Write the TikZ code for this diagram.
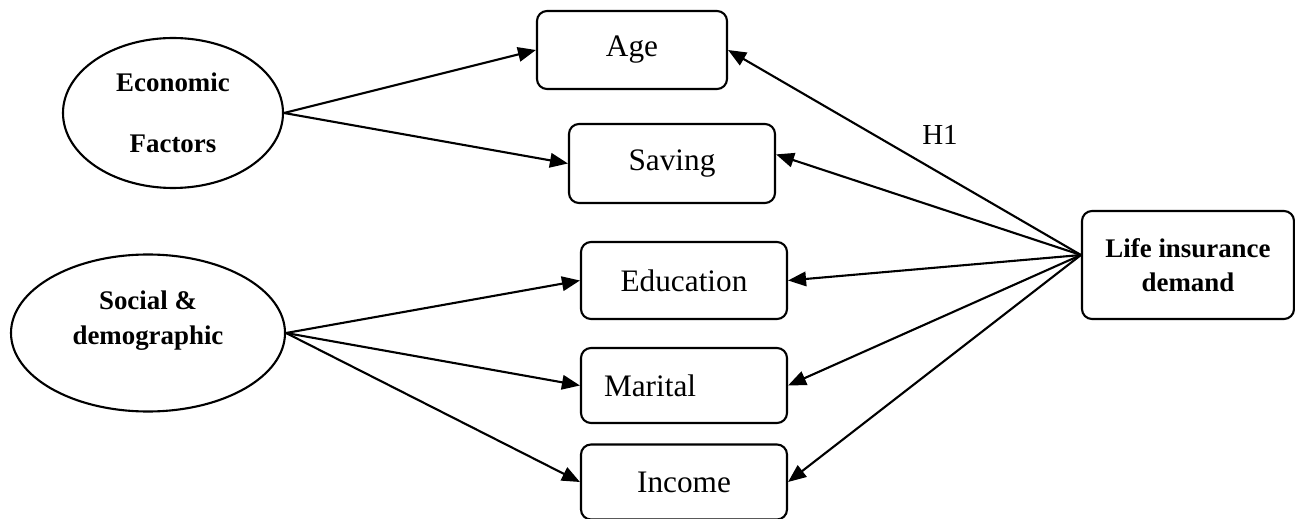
\documentclass[tikz,border=0pt]{standalone}
\usepackage{fontspec}
\setmainfont{Liberation Serif}
\usetikzlibrary{shapes.geometric,arrows.meta}

\tikzset{
  factor/.style={shape=ellipse,draw=black,line width=1.2pt,align=center,font=\bfseries\fontsize{15.3}{20}\selectfont},
  item/.style={shape=rectangle,rounded corners=0.2cm,draw=black,line width=1.2pt,minimum width=4.12cm,minimum height=1.54cm,font=\fontsize{17.8}{21}\selectfont},
}

\begin{document}
\begin{tikzpicture}[>={Triangle[length=0.36cm,width=0.29cm]},line width=1.2pt]
    \useasboundingbox (0,0) rectangle (25.9,10.36);

    \node[factor,minimum width=4.4cm,minimum height=3cm,font=\bfseries\fontsize{15.3}{35}\selectfont] (eco) at (3.46,8.10) {Economic\\Factors};
    \node[factor,minimum width=5.48cm,minimum height=3.14cm] (soc) at (2.96,3.70) {};
    \node[align=center,font=\bfseries\fontsize{15.3}{20}\selectfont] (soctext) at (2.96,3.95) {Social \&\\demographic};

    \node[item,minimum width=3.8cm,minimum height=1.56cm] (age) at (12.64,9.36) {Age};
    \node[item,minimum height=1.58cm] (saving) at (13.44,7.09) {Saving};
    \node[item] (edu) at (13.68,4.75) {Education};
    \node[item,minimum height=1.5cm,text width=3.2cm,inner xsep=0.46cm,align=left] (marital) at (13.68,2.65) {Marital};
    \node[item,minimum height=1.5cm] (income) at (13.68,0.72) {Income};

    \node[item,minimum width=4.24cm,minimum height=2.16cm,align=center,font=\bfseries\fontsize{15.3}{19.3}\selectfont] (life) at (23.76,5.06) {Life insurance\\demand};
    \coordinate (hub) at ([yshift=0.2cm]life.west);

    \node[font=\fontsize{16.5}{20}\selectfont] (h1) at (18.8,7.66) {H1};

    \path [->](eco.east) edge (age.west);
    \path [->](eco.east) edge (saving.west);

    \path [->](soc.east) edge (edu.west);
    \path [->](soc.east) edge (marital.west);
    \path [->](soc.east) edge (income.west);

    \path [->](hub) edge (age.east);
    \path [->](hub) edge (saving.5);
    \path [->](hub) edge (edu.east);
    \path [->](hub) edge (marital.east);
    \path [->](hub) edge (income.east);

\end{tikzpicture}
\end{document}
